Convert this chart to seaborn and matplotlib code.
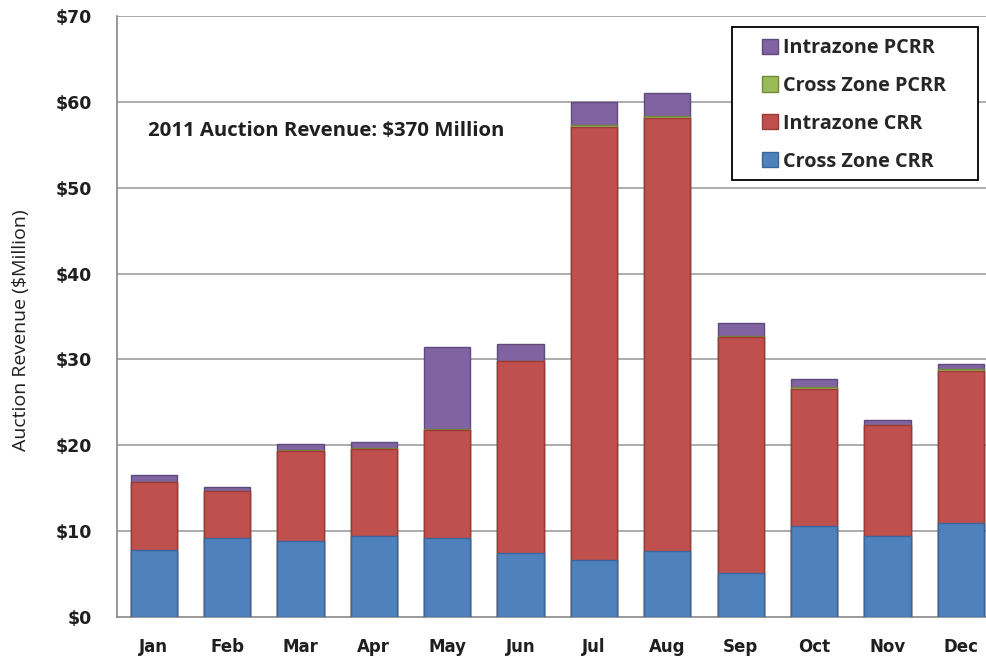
import matplotlib
matplotlib.use("Agg")
import matplotlib.pyplot as plt
from matplotlib.patches import Patch, Rectangle
import numpy as np
import seaborn as sns

months = ["Jan", "Feb", "Mar", "Apr", "May", "Jun", "Jul", "Aug", "Sep", "Oct", "Nov", "Dec"]
cross_zone_crr = [7.8, 9.2, 8.9, 9.4, 9.2, 7.5, 6.6, 7.65, 5.15, 10.6, 9.4, 10.95]
intrazone_crr = [7.9, 5.45, 10.45, 10.15, 12.55, 22.3, 50.5, 50.45, 27.45, 16.0, 12.95, 17.75]
cross_zone_pcrr = [0.05, 0.02, 0.15, 0.1, 0.1, 0.05, 0.15, 0.3, 0.15, 0.2, 0.05, 0.15]
intrazone_pcrr = [0.75, 0.43, 0.7, 0.75, 9.55, 1.9, 2.75, 2.6, 1.45, 0.9, 0.6, 0.6]

series_names = ["Cross Zone CRR", "Intrazone CRR", "Cross Zone PCRR", "Intrazone PCRR"]
series_vals = [cross_zone_crr, intrazone_crr, cross_zone_pcrr, intrazone_pcrr]
fills = ["#4F81BD", "#C0504D", "#9BBB59", "#8064A2"]
edges = ["#3A669C", "#9C3A37", "#71893F", "#5F4A7E"]

yticks = [0, 10, 20, 30, 40, 50, 60, 70]
ytick_labels = ["$0", "$10", "$20", "$30", "$40", "$50", "$60", "$70"]

sns.set_style("white")
plt.rcParams["font.family"] = ["Open Sans", "DejaVu Sans"]

W, H = 986, 657
fig = plt.figure(figsize=(W / 100, H / 100), dpi=100)
ax = fig.add_axes([117 / W, 1 - 617 / H, (997.5 - 117) / W, (617 - 16) / H])

cum = np.cumsum(np.array(series_vals), axis=0)
for i in range(len(series_vals) - 1, -1, -1):
    sns.barplot(x=months, y=cum[i], color=fills[i], saturation=1, width=0.63,
                edgecolor=edges[i], linewidth=1.0, ax=ax, zorder=3)

ax.set_ylim(0, 70)
ax.set_xlim(-0.5, 11.5)
ax.set_yticks(yticks)
ax.set_yticklabels(ytick_labels, fontsize=12.5, fontweight="bold", color="#1F1F1F", family="DejaVu Sans")
ax.set_xticks(range(len(months)))
ax.set_xticklabels(months, fontsize=12, fontweight="bold", color="#1F1F1F", family="DejaVu Sans")
ax.set_xticks(np.arange(-0.5, 12, 1), minor=True)
ax.tick_params(axis="x", which="major", length=0, pad=15)
ax.tick_params(axis="x", which="minor", length=5, color="#888888", direction="out")
ax.tick_params(axis="y", which="major", length=7, color="#888888", direction="out", pad=11)
for y in yticks[1:]:
    ax.axhline(y, color="#A6A6A6", linewidth=1.3, zorder=1)

for s in ["top", "right"]:
    ax.spines[s].set_visible(False)
for s in ["left", "bottom"]:
    ax.spines[s].set_color("#888888")
    ax.spines[s].set_linewidth(1.2)

ax.set_xlabel("")
ax.set_ylabel("Auction Revenue ($Million)", fontsize=14, color="#1F1F1F")
ax.yaxis.set_label_coords((30 - 117) / (997.5 - 117), (617 - 330) / 601)

ax.text(-0.08, 56.6, "2011 Auction Revenue: $370 Million", fontsize=14.7, fontweight="bold",
        color="#1F1F1F", ha="left", va="center", zorder=5)

# legend box
fig.patches.append(Rectangle((732 / W, 1 - 180 / H), (978 - 732) / W, (180 - 27) / H,
                             transform=fig.transFigure, facecolor="white", edgecolor="black",
                             linewidth=1.3, zorder=5))
handles = [Patch(facecolor=fills[i], edgecolor=edges[i], label=series_names[i]) for i in [3, 2, 1, 0]]
leg = fig.legend(handles=handles, loc="upper left", bbox_to_anchor=(762 / W, 1 - 38 / H),
                 frameon=False, prop={"weight": "bold", "size": 14.3},
                 handlelength=0.8, handleheight=0.8, handletextpad=0.25, labelspacing=0.9,
                 borderpad=0, borderaxespad=0)
leg.set_zorder(6)

fig.savefig("out.png", dpi=100)
